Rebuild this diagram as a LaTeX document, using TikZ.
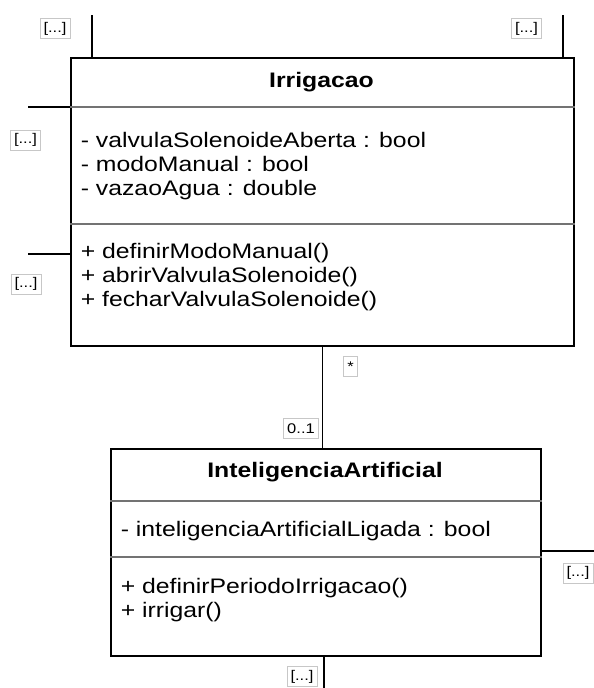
\documentclass[tikz,border=0pt]{standalone}
\usepackage{fontspec}
\setmainfont{Liberation Sans}[FakeStretch=1.18]
\usepackage{tikz}
\tikzset{every picture/.style={line width=1.6pt}}
\tikzset{
  classbox/.style={draw, rectangle, inner sep=0pt, anchor=north west},
  divider/.style={draw=black!55, line width=1.5pt},
  members/.style={anchor=north west, inner sep=0pt, align=left, font=\fontsize{21}{23.8}\selectfont},
  classname/.style={anchor=base, inner sep=0pt, font=\fontsize{21}{24}\selectfont\bfseries},
  mult/.style={draw=black!22, line width=0.6pt, fill=white, inner xsep=3.5pt, inner ysep=1pt, minimum height=20pt, font=\fontsize{14}{15}\selectfont},
}

\begin{document}
\begin{tikzpicture}[x=1pt,y=1pt,yscale=-1,xscale=1]
    \useasboundingbox (0,0) rectangle (594,688);

    \node (irr) [classbox, minimum width=503pt, minimum height=288pt] at (70,57) {};
    \node (ia) [classbox, minimum width=430pt, minimum height=207pt] at (110,448) {};

    \draw [divider] (irr.west |- 0,107) -- (irr.east |- 0,107);
    \draw [divider] (irr.west |- 0,224) -- (irr.east |- 0,224);
    \draw [divider] (ia.west |- 0,501) -- (ia.east |- 0,501);
    \draw [divider] (ia.west |- 0,557) -- (ia.east |- 0,557);

    \node (irrName) [classname] at (321.5,87) {Irrigacao};
    \node (irrAttr) [members] at (80,131.6) {- valvulaSolenoideAberta : bool\\- modoManual : bool\\- vazaoAgua : double};
    \node (irrOps) [members] at (80,242.6) {+ definirModoManual()\\+ abrirValvulaSolenoide()\\+ fecharValvulaSolenoide()};

    \node (iaName) [classname] at (325,477) {InteligenciaArtificial};
    \node (iaAttr) [members] at (120,520.6) {- inteligenciaArtificialLigada : bool};
    \node (iaOps) [members] at (120,577.6) {+ definirPeriodoIrrigacao()\\+ irrigar()};

    \coordinate (irrTopL) at (92,15);
    \coordinate (irrTopR) at (563,15);
    \coordinate (irrLeftA) at (28,107);
    \coordinate (irrLeftB) at (28,254);
    \coordinate (iaRight) at (594,551);
    \coordinate (iaBottom) at (324,688);

    \draw (irrTopL) -- (irrTopL |- irr.north);
    \draw (irrTopR) -- (irrTopR |- irr.north);
    \draw (irrLeftA) -- (irrLeftA -| irr.west);
    \draw (irrLeftB) -- (irrLeftB -| irr.west);
    \draw (ia.east |- iaRight) -- (iaRight);
    \draw (iaBottom |- ia.south) -- (iaBottom);
    \draw (irr.south) -- (irr.south |- ia.north);

    \node (mTopL) [mult] at (55,28.5) {[...]};
    \node (mTopR) [mult] at (526.5,28.5) {[...]};
    \node (mLeftA) [mult] at (25.5,140) {[...]};
    \node (mLeftB) [mult] at (26,284) {[...]};
    \node (mRight) [mult] at (578,573) {[...]};
    \node (mBottom) [mult] at (302,676.5) {[...]};
    \node (mIrr) [mult] at (350.5,366.5) {*};
    \node (mIa) [mult] at (301,428.5) {0..1};
\end{tikzpicture}
\end{document}
